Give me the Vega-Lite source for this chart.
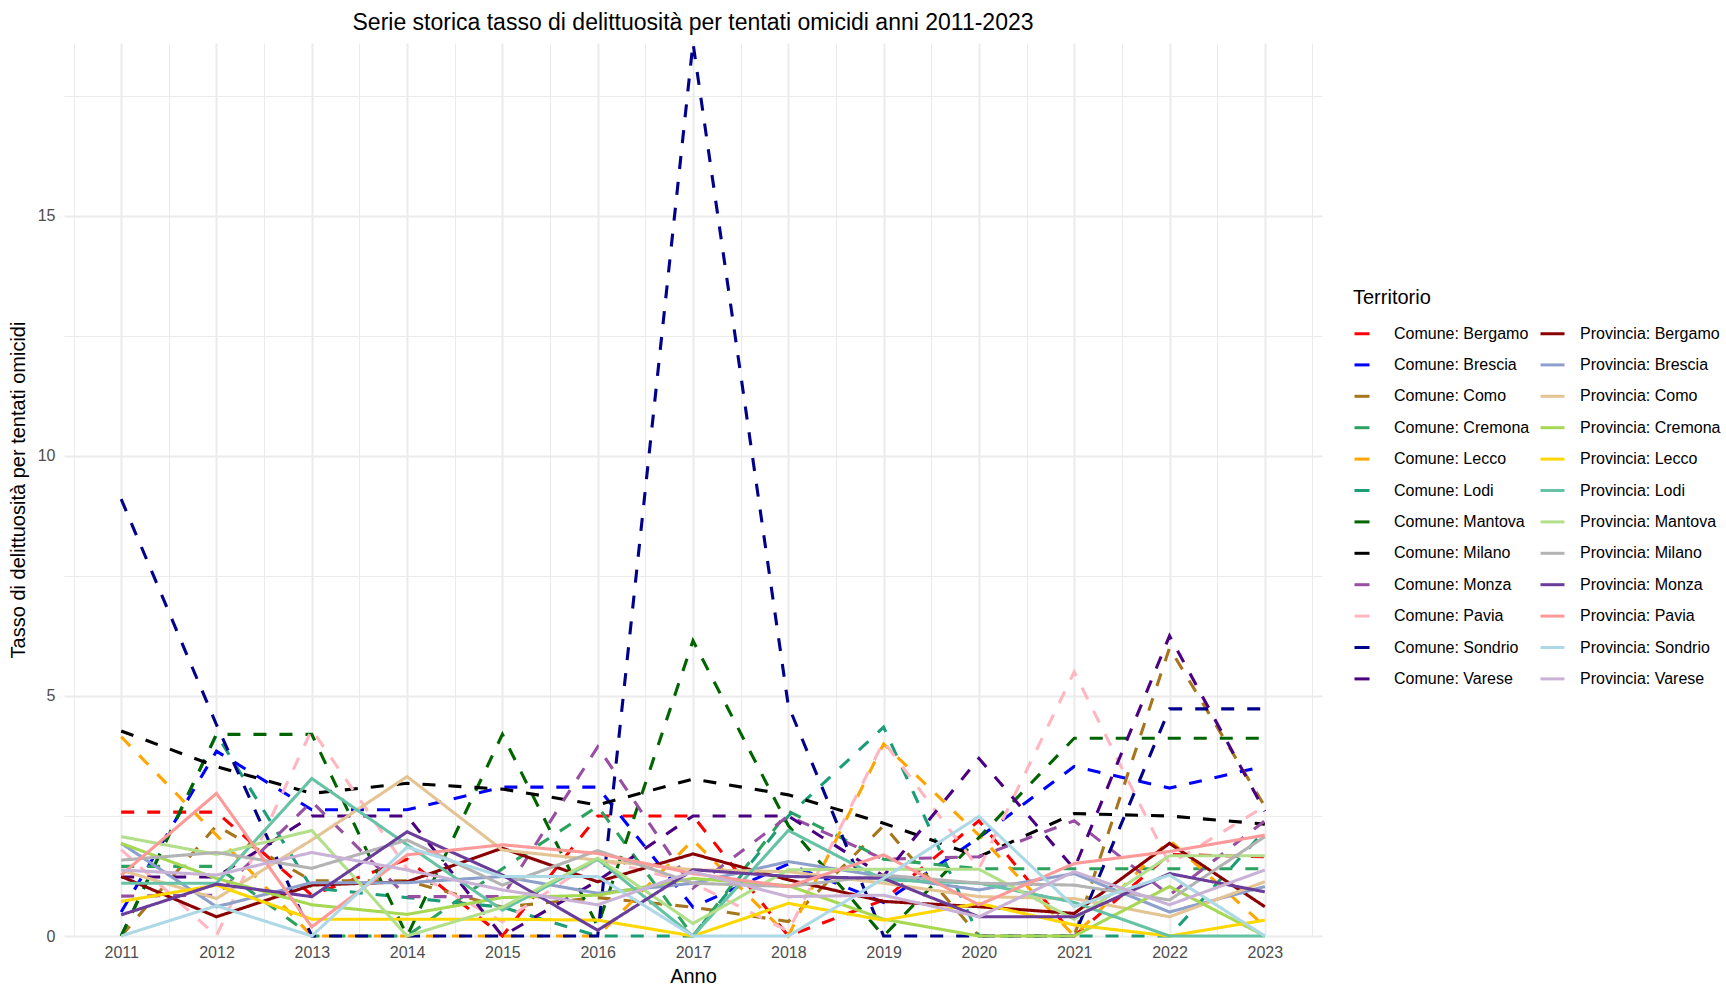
{
"$schema": "https://vega.github.io/schema/vega-lite/v6.json",
"width": 1258, "height": 893,
"autosize": {"type": "none"},
"padding": {"left": 64, "top": 43, "right": 404, "bottom": 52},
"background": "white",
"config": {"view": {"stroke": null}, "font": "Liberation Sans"},
"title": {"text": "Serie storica tasso di delittuosità per tentati omicidi anni 2011-2023", "fontSize": 23, "fontWeight": "normal", "color": "black", "anchor": "middle", "frame": "group", "baseline": "alphabetic", "offset": -16, "font": "Liberation Sans"},
"data": {"values": [
{"t":"Comune: Bergamo","a":2011,"v":2.58},{"t":"Comune: Bergamo","a":2012,"v":2.58},{"t":"Comune: Bergamo","a":2013,"v":0.85},{"t":"Comune: Bergamo","a":2014,"v":1.6},{"t":"Comune: Bergamo","a":2015,"v":0},{"t":"Comune: Bergamo","a":2016,"v":2.5},{"t":"Comune: Bergamo","a":2017,"v":2.5},{"t":"Comune: Bergamo","a":2018,"v":0},{"t":"Comune: Bergamo","a":2019,"v":0.75},{"t":"Comune: Bergamo","a":2020,"v":2.4},{"t":"Comune: Bergamo","a":2021,"v":0},{"t":"Comune: Bergamo","a":2022,"v":1.7},{"t":"Comune: Bergamo","a":2023,"v":1.65},
{"t":"Comune: Brescia","a":2011,"v":0.5},{"t":"Comune: Brescia","a":2012,"v":3.85},{"t":"Comune: Brescia","a":2013,"v":2.63},{"t":"Comune: Brescia","a":2014,"v":2.63},{"t":"Comune: Brescia","a":2015,"v":3.1},{"t":"Comune: Brescia","a":2016,"v":3.1},{"t":"Comune: Brescia","a":2017,"v":0.6},{"t":"Comune: Brescia","a":2018,"v":1.5},{"t":"Comune: Brescia","a":2019,"v":0.7},{"t":"Comune: Brescia","a":2020,"v":2.05},{"t":"Comune: Brescia","a":2021,"v":3.53},{"t":"Comune: Brescia","a":2022,"v":3.08},{"t":"Comune: Brescia","a":2023,"v":3.54},
{"t":"Comune: Como","a":2011,"v":0},{"t":"Comune: Como","a":2012,"v":2.3},{"t":"Comune: Como","a":2013,"v":1.15},{"t":"Comune: Como","a":2014,"v":1.15},{"t":"Comune: Como","a":2015,"v":0.6},{"t":"Comune: Como","a":2016,"v":0.8},{"t":"Comune: Como","a":2017,"v":0.6},{"t":"Comune: Como","a":2018,"v":0.3},{"t":"Comune: Como","a":2019,"v":2.3},{"t":"Comune: Como","a":2020,"v":0},{"t":"Comune: Como","a":2021,"v":0},{"t":"Comune: Como","a":2022,"v":6.0},{"t":"Comune: Como","a":2023,"v":2.7},
{"t":"Comune: Cremona","a":2011,"v":1.45},{"t":"Comune: Cremona","a":2012,"v":1.45},{"t":"Comune: Cremona","a":2013,"v":0},{"t":"Comune: Cremona","a":2014,"v":0},{"t":"Comune: Cremona","a":2015,"v":1.4},{"t":"Comune: Cremona","a":2016,"v":2.7},{"t":"Comune: Cremona","a":2017,"v":0},{"t":"Comune: Cremona","a":2018,"v":2.6},{"t":"Comune: Cremona","a":2019,"v":1.6},{"t":"Comune: Cremona","a":2020,"v":1.4},{"t":"Comune: Cremona","a":2021,"v":1.4},{"t":"Comune: Cremona","a":2022,"v":1.4},{"t":"Comune: Cremona","a":2023,"v":1.4},
{"t":"Comune: Lecco","a":2011,"v":4.15},{"t":"Comune: Lecco","a":2012,"v":2.1},{"t":"Comune: Lecco","a":2013,"v":0},{"t":"Comune: Lecco","a":2014,"v":0},{"t":"Comune: Lecco","a":2015,"v":0},{"t":"Comune: Lecco","a":2016,"v":0},{"t":"Comune: Lecco","a":2017,"v":2.0},{"t":"Comune: Lecco","a":2018,"v":0},{"t":"Comune: Lecco","a":2019,"v":4.0},{"t":"Comune: Lecco","a":2020,"v":2.1},{"t":"Comune: Lecco","a":2021,"v":0},{"t":"Comune: Lecco","a":2022,"v":2.0},{"t":"Comune: Lecco","a":2023,"v":0.2},
{"t":"Comune: Lodi","a":2011,"v":0},{"t":"Comune: Lodi","a":2012,"v":4.2},{"t":"Comune: Lodi","a":2013,"v":1.0},{"t":"Comune: Lodi","a":2014,"v":0.8},{"t":"Comune: Lodi","a":2015,"v":0.6},{"t":"Comune: Lodi","a":2016,"v":0},{"t":"Comune: Lodi","a":2017,"v":0},{"t":"Comune: Lodi","a":2018,"v":2.5},{"t":"Comune: Lodi","a":2019,"v":4.35},{"t":"Comune: Lodi","a":2020,"v":0},{"t":"Comune: Lodi","a":2021,"v":0},{"t":"Comune: Lodi","a":2022,"v":0},{"t":"Comune: Lodi","a":2023,"v":2.2},
{"t":"Comune: Mantova","a":2011,"v":0},{"t":"Comune: Mantova","a":2012,"v":4.2},{"t":"Comune: Mantova","a":2013,"v":4.2},{"t":"Comune: Mantova","a":2014,"v":0},{"t":"Comune: Mantova","a":2015,"v":4.2},{"t":"Comune: Mantova","a":2016,"v":0.2},{"t":"Comune: Mantova","a":2017,"v":6.15},{"t":"Comune: Mantova","a":2018,"v":2.3},{"t":"Comune: Mantova","a":2019,"v":0},{"t":"Comune: Mantova","a":2020,"v":2.05},{"t":"Comune: Mantova","a":2021,"v":4.12},{"t":"Comune: Mantova","a":2022,"v":4.12},{"t":"Comune: Mantova","a":2023,"v":4.12},
{"t":"Comune: Milano","a":2011,"v":4.27},{"t":"Comune: Milano","a":2012,"v":3.53},{"t":"Comune: Milano","a":2013,"v":2.97},{"t":"Comune: Milano","a":2014,"v":3.18},{"t":"Comune: Milano","a":2015,"v":3.06},{"t":"Comune: Milano","a":2016,"v":2.73},{"t":"Comune: Milano","a":2017,"v":3.27},{"t":"Comune: Milano","a":2018,"v":2.94},{"t":"Comune: Milano","a":2019,"v":2.35},{"t":"Comune: Milano","a":2020,"v":1.65},{"t":"Comune: Milano","a":2021,"v":2.55},{"t":"Comune: Milano","a":2022,"v":2.5},{"t":"Comune: Milano","a":2023,"v":2.33},
{"t":"Comune: Monza","a":2011,"v":0.83},{"t":"Comune: Monza","a":2012,"v":0.85},{"t":"Comune: Monza","a":2013,"v":2.8},{"t":"Comune: Monza","a":2014,"v":0.82},{"t":"Comune: Monza","a":2015,"v":0.82},{"t":"Comune: Monza","a":2016,"v":3.94},{"t":"Comune: Monza","a":2017,"v":1.0},{"t":"Comune: Monza","a":2018,"v":2.5},{"t":"Comune: Monza","a":2019,"v":1.6},{"t":"Comune: Monza","a":2020,"v":1.65},{"t":"Comune: Monza","a":2021,"v":2.4},{"t":"Comune: Monza","a":2022,"v":0.85},{"t":"Comune: Monza","a":2023,"v":2.4},
{"t":"Comune: Pavia","a":2011,"v":1.8},{"t":"Comune: Pavia","a":2012,"v":0},{"t":"Comune: Pavia","a":2013,"v":4.3},{"t":"Comune: Pavia","a":2014,"v":1.4},{"t":"Comune: Pavia","a":2015,"v":0.3},{"t":"Comune: Pavia","a":2016,"v":1.6},{"t":"Comune: Pavia","a":2017,"v":1.1},{"t":"Comune: Pavia","a":2018,"v":0.1},{"t":"Comune: Pavia","a":2019,"v":4.05},{"t":"Comune: Pavia","a":2020,"v":1.4},{"t":"Comune: Pavia","a":2021,"v":5.5},{"t":"Comune: Pavia","a":2022,"v":1.5},{"t":"Comune: Pavia","a":2023,"v":2.7},
{"t":"Comune: Sondrio","a":2011,"v":9.1},{"t":"Comune: Sondrio","a":2012,"v":4.4},{"t":"Comune: Sondrio","a":2013,"v":0},{"t":"Comune: Sondrio","a":2014,"v":0},{"t":"Comune: Sondrio","a":2015,"v":0},{"t":"Comune: Sondrio","a":2016,"v":0},{"t":"Comune: Sondrio","a":2017,"v":18.6},{"t":"Comune: Sondrio","a":2018,"v":4.8},{"t":"Comune: Sondrio","a":2019,"v":0},{"t":"Comune: Sondrio","a":2020,"v":0},{"t":"Comune: Sondrio","a":2021,"v":0},{"t":"Comune: Sondrio","a":2022,"v":4.73},{"t":"Comune: Sondrio","a":2023,"v":4.73},
{"t":"Comune: Varese","a":2011,"v":1.23},{"t":"Comune: Varese","a":2012,"v":1.23},{"t":"Comune: Varese","a":2013,"v":2.5},{"t":"Comune: Varese","a":2014,"v":2.5},{"t":"Comune: Varese","a":2015,"v":0},{"t":"Comune: Varese","a":2016,"v":1.15},{"t":"Comune: Varese","a":2017,"v":2.5},{"t":"Comune: Varese","a":2018,"v":2.5},{"t":"Comune: Varese","a":2019,"v":1.25},{"t":"Comune: Varese","a":2020,"v":3.7},{"t":"Comune: Varese","a":2021,"v":1.4},{"t":"Comune: Varese","a":2022,"v":6.25},{"t":"Comune: Varese","a":2023,"v":2.6},
{"t":"Provincia: Bergamo","a":2011,"v":1.24},{"t":"Provincia: Bergamo","a":2012,"v":0.4},{"t":"Provincia: Bergamo","a":2013,"v":1.06},{"t":"Provincia: Bergamo","a":2014,"v":1.13},{"t":"Provincia: Bergamo","a":2015,"v":1.83},{"t":"Provincia: Bergamo","a":2016,"v":1.13},{"t":"Provincia: Bergamo","a":2017,"v":1.71},{"t":"Provincia: Bergamo","a":2018,"v":1.17},{"t":"Provincia: Bergamo","a":2019,"v":0.72},{"t":"Provincia: Bergamo","a":2020,"v":0.61},{"t":"Provincia: Bergamo","a":2021,"v":0.47},{"t":"Provincia: Bergamo","a":2022,"v":1.93},{"t":"Provincia: Bergamo","a":2023,"v":0.61},
{"t":"Provincia: Brescia","a":2011,"v":1.93},{"t":"Provincia: Brescia","a":2012,"v":0.61},{"t":"Provincia: Brescia","a":2013,"v":1.11},{"t":"Provincia: Brescia","a":2014,"v":1.11},{"t":"Provincia: Brescia","a":2015,"v":1.24},{"t":"Provincia: Brescia","a":2016,"v":0.89},{"t":"Provincia: Brescia","a":2017,"v":1.1},{"t":"Provincia: Brescia","a":2018,"v":1.55},{"t":"Provincia: Brescia","a":2019,"v":1.24},{"t":"Provincia: Brescia","a":2020,"v":0.96},{"t":"Provincia: Brescia","a":2021,"v":1.3},{"t":"Provincia: Brescia","a":2022,"v":0.5},{"t":"Provincia: Brescia","a":2023,"v":1.03},
{"t":"Provincia: Como","a":2011,"v":1.37},{"t":"Provincia: Como","a":2012,"v":0.78},{"t":"Provincia: Como","a":2013,"v":2.0},{"t":"Provincia: Como","a":2014,"v":3.32},{"t":"Provincia: Como","a":2015,"v":1.79},{"t":"Provincia: Como","a":2016,"v":1.58},{"t":"Provincia: Como","a":2017,"v":1.38},{"t":"Provincia: Como","a":2018,"v":1.34},{"t":"Provincia: Como","a":2019,"v":1.1},{"t":"Provincia: Como","a":2020,"v":0.82},{"t":"Provincia: Como","a":2021,"v":0.78},{"t":"Provincia: Como","a":2022,"v":0.4},{"t":"Provincia: Como","a":2023,"v":1.13},
{"t":"Provincia: Cremona","a":2011,"v":1.93},{"t":"Provincia: Cremona","a":2012,"v":1.2},{"t":"Provincia: Cremona","a":2013,"v":0.65},{"t":"Provincia: Cremona","a":2014,"v":0.45},{"t":"Provincia: Cremona","a":2015,"v":0.8},{"t":"Provincia: Cremona","a":2016,"v":0.85},{"t":"Provincia: Cremona","a":2017,"v":1.2},{"t":"Provincia: Cremona","a":2018,"v":1.05},{"t":"Provincia: Cremona","a":2019,"v":0.35},{"t":"Provincia: Cremona","a":2020,"v":0},{"t":"Provincia: Cremona","a":2021,"v":0},{"t":"Provincia: Cremona","a":2022,"v":1.03},{"t":"Provincia: Cremona","a":2023,"v":0},
{"t":"Provincia: Lecco","a":2011,"v":0.72},{"t":"Provincia: Lecco","a":2012,"v":1.06},{"t":"Provincia: Lecco","a":2013,"v":0.35},{"t":"Provincia: Lecco","a":2014,"v":0.35},{"t":"Provincia: Lecco","a":2015,"v":0.35},{"t":"Provincia: Lecco","a":2016,"v":0.33},{"t":"Provincia: Lecco","a":2017,"v":0},{"t":"Provincia: Lecco","a":2018,"v":0.68},{"t":"Provincia: Lecco","a":2019,"v":0.33},{"t":"Provincia: Lecco","a":2020,"v":0.68},{"t":"Provincia: Lecco","a":2021,"v":0.23},{"t":"Provincia: Lecco","a":2022,"v":0},{"t":"Provincia: Lecco","a":2023,"v":0.33},
{"t":"Provincia: Lodi","a":2011,"v":1.1},{"t":"Provincia: Lodi","a":2012,"v":1.1},{"t":"Provincia: Lodi","a":2013,"v":3.28},{"t":"Provincia: Lodi","a":2014,"v":1.9},{"t":"Provincia: Lodi","a":2015,"v":0.54},{"t":"Provincia: Lodi","a":2016,"v":1.6},{"t":"Provincia: Lodi","a":2017,"v":0},{"t":"Provincia: Lodi","a":2018,"v":2.2},{"t":"Provincia: Lodi","a":2019,"v":1.17},{"t":"Provincia: Lodi","a":2020,"v":1.1},{"t":"Provincia: Lodi","a":2021,"v":0.7},{"t":"Provincia: Lodi","a":2022,"v":0},{"t":"Provincia: Lodi","a":2023,"v":0},
{"t":"Provincia: Mantova","a":2011,"v":2.07},{"t":"Provincia: Mantova","a":2012,"v":1.7},{"t":"Provincia: Mantova","a":2013,"v":2.2},{"t":"Provincia: Mantova","a":2014,"v":0},{"t":"Provincia: Mantova","a":2015,"v":0.6},{"t":"Provincia: Mantova","a":2016,"v":1.62},{"t":"Provincia: Mantova","a":2017,"v":0.26},{"t":"Provincia: Mantova","a":2018,"v":1.38},{"t":"Provincia: Mantova","a":2019,"v":1.39},{"t":"Provincia: Mantova","a":2020,"v":1.39},{"t":"Provincia: Mantova","a":2021,"v":0.35},{"t":"Provincia: Mantova","a":2022,"v":1.67},{"t":"Provincia: Mantova","a":2023,"v":1.67},
{"t":"Provincia: Milano","a":2011,"v":1.58},{"t":"Provincia: Milano","a":2012,"v":1.74},{"t":"Provincia: Milano","a":2013,"v":1.41},{"t":"Provincia: Milano","a":2014,"v":2.0},{"t":"Provincia: Milano","a":2015,"v":1.06},{"t":"Provincia: Milano","a":2016,"v":1.78},{"t":"Provincia: Milano","a":2017,"v":1.1},{"t":"Provincia: Milano","a":2018,"v":1.03},{"t":"Provincia: Milano","a":2019,"v":1.27},{"t":"Provincia: Milano","a":2020,"v":1.1},{"t":"Provincia: Milano","a":2021,"v":1.06},{"t":"Provincia: Milano","a":2022,"v":0.75},{"t":"Provincia: Milano","a":2023,"v":2.07},
{"t":"Provincia: Monza","a":2011,"v":0.44},{"t":"Provincia: Monza","a":2012,"v":1.08},{"t":"Provincia: Monza","a":2013,"v":0.82},{"t":"Provincia: Monza","a":2014,"v":2.17},{"t":"Provincia: Monza","a":2015,"v":1.27},{"t":"Provincia: Monza","a":2016,"v":0.12},{"t":"Provincia: Monza","a":2017,"v":1.38},{"t":"Provincia: Monza","a":2018,"v":1.24},{"t":"Provincia: Monza","a":2019,"v":1.2},{"t":"Provincia: Monza","a":2020,"v":0.4},{"t":"Provincia: Monza","a":2021,"v":0.4},{"t":"Provincia: Monza","a":2022,"v":1.3},{"t":"Provincia: Monza","a":2023,"v":0.92},
{"t":"Provincia: Pavia","a":2011,"v":1.27},{"t":"Provincia: Pavia","a":2012,"v":2.97},{"t":"Provincia: Pavia","a":2013,"v":0.19},{"t":"Provincia: Pavia","a":2014,"v":1.69},{"t":"Provincia: Pavia","a":2015,"v":1.9},{"t":"Provincia: Pavia","a":2016,"v":1.72},{"t":"Provincia: Pavia","a":2017,"v":1.3},{"t":"Provincia: Pavia","a":2018,"v":1.03},{"t":"Provincia: Pavia","a":2019,"v":1.69},{"t":"Provincia: Pavia","a":2020,"v":0.65},{"t":"Provincia: Pavia","a":2021,"v":1.51},{"t":"Provincia: Pavia","a":2022,"v":1.76},{"t":"Provincia: Pavia","a":2023,"v":2.1},
{"t":"Provincia: Sondrio","a":2011,"v":0},{"t":"Provincia: Sondrio","a":2012,"v":0.63},{"t":"Provincia: Sondrio","a":2013,"v":0},{"t":"Provincia: Sondrio","a":2014,"v":1.85},{"t":"Provincia: Sondrio","a":2015,"v":1.24},{"t":"Provincia: Sondrio","a":2016,"v":1.24},{"t":"Provincia: Sondrio","a":2017,"v":0},{"t":"Provincia: Sondrio","a":2018,"v":0},{"t":"Provincia: Sondrio","a":2019,"v":1.2},{"t":"Provincia: Sondrio","a":2020,"v":2.49},{"t":"Provincia: Sondrio","a":2021,"v":0.61},{"t":"Provincia: Sondrio","a":2022,"v":1.27},{"t":"Provincia: Sondrio","a":2023,"v":0},
{"t":"Provincia: Varese","a":2011,"v":1.375},{"t":"Provincia: Varese","a":2012,"v":1.27},{"t":"Provincia: Varese","a":2013,"v":1.74},{"t":"Provincia: Varese","a":2014,"v":1.375},{"t":"Provincia: Varese","a":2015,"v":0.96},{"t":"Provincia: Varese","a":2016,"v":0.65},{"t":"Provincia: Varese","a":2017,"v":1.34},{"t":"Provincia: Varese","a":2018,"v":0.82},{"t":"Provincia: Varese","a":2019,"v":0.85},{"t":"Provincia: Varese","a":2020,"v":0.4},{"t":"Provincia: Varese","a":2021,"v":1.34},{"t":"Provincia: Varese","a":2022,"v":0.65},{"t":"Provincia: Varese","a":2023,"v":1.375}
]},
"mark": {"type": "line", "strokeWidth": 3.1, "clip": false},
"encoding": {
 "x": {"field": "a", "type": "quantitative",
  "scale": {"domain": [2010.4, 2023.6], "nice": false, "zero": false},
  "axis": {"values": [2010.5,2011,2011.5,2012,2012.5,2013,2013.5,2014,2014.5,2015,2015.5,2016,2016.5,2017,2017.5,2018,2018.5,2019,2019.5,2020,2020.5,2021,2021.5,2022,2022.5,2023,2023.5],
   "labelExpr": "datum.value % 1 === 0 ? format(datum.value, 'd') : ''",
   "grid": true, "gridColor": "#EBEBEB",
   "gridWidth": {"condition": {"test": "datum.value % 1 !== 0", "value": 1}, "value": 2},
   "ticks": false, "domain": false, "labelOverlap": false, "labelFlush": false, "labelBound": false,
   "labelFontSize": 16, "labelColor": "#4D4D4D", "labelPadding": 8, "labelFont": "Liberation Sans",
   "title": "Anno", "titleFontSize": 20, "titleFontWeight": "normal", "titleColor": "black", "titlePadding": 6, "titleFont": "Liberation Sans"}},
 "y": {"field": "v", "type": "quantitative",
  "scale": {"domain": [0, 18.6], "nice": false, "zero": true},
  "axis": {"values": [0,2.5,5,7.5,10,12.5,15,17.5],
   "labelExpr": "datum.value % 5 === 0 ? format(datum.value, 'd') : ''",
   "grid": true, "gridColor": "#EBEBEB",
   "gridWidth": {"condition": {"test": "datum.value % 5 !== 0", "value": 1}, "value": 2},
   "ticks": false, "domain": false, "labelOverlap": false, "labelFlush": false, "labelBound": false,
   "labelFontSize": 16, "labelColor": "#4D4D4D", "labelPadding": 9, "labelFont": "Liberation Sans",
   "title": "Tasso di delittuosità per tentati omicidi", "titleFontSize": 20, "titleFontWeight": "normal", "titleColor": "black", "titlePadding": 9, "titleFont": "Liberation Sans"}},
 "color": {"field": "t", "type": "nominal",
  "scale": {"domain": ["Comune: Bergamo","Comune: Brescia","Comune: Como","Comune: Cremona","Comune: Lecco","Comune: Lodi","Comune: Mantova","Comune: Milano","Comune: Monza","Comune: Pavia","Comune: Sondrio","Comune: Varese","Provincia: Bergamo","Provincia: Brescia","Provincia: Como","Provincia: Cremona","Provincia: Lecco","Provincia: Lodi","Provincia: Mantova","Provincia: Milano","Provincia: Monza","Provincia: Pavia","Provincia: Sondrio","Provincia: Varese"],
   "range": ["#FF0000","#0000FF","#A6761D","#2CA25F","#FFA500","#1B9E77","#006400","#000000","#984EA3","#FFB6C1","#00008B","#4B0082","#8B0000","#8DA0CB","#E5C494","#A6D854","#FFD700","#66C2A5","#B2DF8A","#B3B3B3","#6A3D9A","#FB9A99","#ADD8E6","#CAB2D6"]},
  "legend": {"orient": "none", "legendX": 1289, "legendY": 245, "direction": "vertical", "columns": 2,
   "title": "Territorio", "titleFontSize": 20, "titleFontWeight": "normal", "titleColor": "black", "titlePadding": 12, "titleFont": "Liberation Sans",
   "labelFontSize": 16, "labelColor": "black", "labelFont": "Liberation Sans", "labelLimit": 300,
   "symbolType": "stroke", "symbolSize": 576, "symbolStrokeWidth": 3,
   "labelOffset": 14, "columnPadding": 4, "rowPadding": 9.4, "padding": 0,
   "encode": {"symbols": {"update": {"strokeDash": {"signal": "indexof(datum.value, 'Comune') === 0 ? [15, 9] : [24, 0]"}}}}}},
 "strokeDash": {"condition": {"test": "indexof(datum.t, 'Comune') === 0", "value": [13, 13]}, "value": [1, 0]}
}
}
